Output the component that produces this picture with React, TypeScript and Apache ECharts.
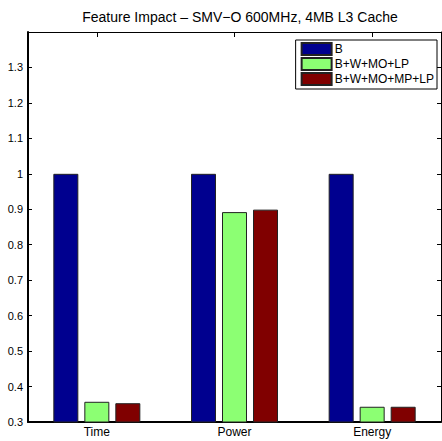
import React, { useEffect, useRef } from "react";
import * as echarts from "echarts";

const categories = ["Time", "Power", "Energy"];
const seriesNames = ["B", "B+W+MO+LP", "B+W+MO+MP+LP"];
const valuesB = [1, 1, 1];
const valuesLP = [0.357, 0.892, 0.343];
const valuesMPLP = [0.353, 0.899, 0.343];
const colors = ["#00008F", "#8CFF73", "#800000"];

export default function App() {
  const ref = useRef<HTMLDivElement>(null);
  useEffect(() => {
    const chart = echarts.init(ref.current!, null, { renderer: "svg" });
    const font = "Liberation Sans";
    const data = [valuesB, valuesLP, valuesMPLP];
    chart.setOption({
      animation: false,
      backgroundColor: "#fff",
      textStyle: { fontFamily: font },
      title: {
        text: "Feature Impact \u2013 SMV\u2212O 600MHz, 4MB L3 Cache",
        left: 235,
        textAlign: "center",
        top: 5,
        textStyle: { fontFamily: font, fontSize: 14, fontWeight: "normal", color: "#000" },
      },
      legend: {
        orient: "vertical",
        right: 5,
        top: 40,
        backgroundColor: "#fff",
        borderColor: "#000",
        borderWidth: 1,
        borderRadius: 0,
        padding: [2, 3, 3, 5],
        itemWidth: 30,
        itemHeight: 12,
        itemGap: 1,
        icon: "rect",
        align: "left",
        textStyle: { fontFamily: font, fontSize: 12, color: "#000", padding: [0, 0, 0, -2] },
        data: seriesNames,
      },
      grid: { left: 28, right: 1, top: 32, bottom: 19, containLabel: false },
      xAxis: [
        {
          type: "category",
          data: categories,
          position: "bottom",
          axisLine: { lineStyle: { color: "#000", width: 2 } },
          axisTick: { show: true, inside: true, alignWithLabel: true, length: 5, lineStyle: { color: "#000" } },
          axisLabel: { color: "#000", fontSize: 12, margin: 4, fontFamily: font },
        },
        {
          type: "category",
          data: categories,
          position: "top",
          axisLine: { lineStyle: { color: "#000", width: 1 } },
          axisTick: { show: true, inside: true, alignWithLabel: true, length: 5, lineStyle: { color: "#000" } },
          axisLabel: { show: false },
        },
      ],
      yAxis: [
        {
          type: "value",
          min: 0.3,
          max: 1.4,
          interval: 0.1,
          position: "left",
          splitLine: { show: false },
          axisLine: { show: true, lineStyle: { color: "#000", width: 2 } },
          axisTick: { show: true, inside: true, length: 4, lineStyle: { color: "#000" } },
          axisLabel: {
            color: "#000",
            fontSize: 11,
            margin: 5,
            fontFamily: font,
            formatter: (v: number) => (v > 1.35 ? "" : String(parseFloat(v.toFixed(1)))),
          },
        },
        {
          type: "value",
          min: 0.3,
          max: 1.4,
          interval: 0.1,
          position: "right",
          splitLine: { show: false },
          axisLine: { show: true, lineStyle: { color: "#000", width: 1 } },
          axisTick: { show: true, inside: true, length: 4, lineStyle: { color: "#000" } },
          axisLabel: { show: false },
        },
      ],
      series: seriesNames.map((name, i) => ({
        name,
        type: "bar",
        xAxisIndex: 0,
        yAxisIndex: 0,
        data: data[i],
        barWidth: 25,
        barGap: "24%",
        itemStyle: { color: colors[i], borderColor: "#222", borderWidth: 1, borderRadius: 0 },
      })),
    });
    return () => chart.dispose();
  }, []);
  return (
    <div
      ref={ref}
      style={{ position: "fixed", left: 0, top: 0, width: 442, height: 441 }}
    />
  );
}
